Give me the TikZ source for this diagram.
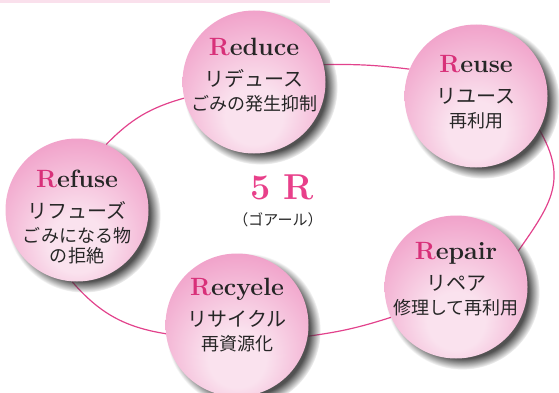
\documentclass[tikz,border=0pt]{standalone}
\usepackage{fontspec}
\newfontfamily\jpfont{Noto Sans CJK JP}
\usetikzlibrary{shadows,fadings,backgrounds}
\definecolor{ringpink}{HTML}{E2428C}
\definecolor{rpink}{HTML}{D83079}
\definecolor{fivepink}{HTML}{E8408A}
\definecolor{ballcore}{HTML}{FAE2EE}
\definecolor{ballmid}{HTML}{F09DC7}
\definecolor{ballrim}{HTML}{E57AB0}
\definecolor{inkgray}{HTML}{262626}
\definecolor{bandpink}{HTML}{FAE0EC}
\pgfdeclareradialshading{pinkball}{\pgfpoint{0bp}{-14bp}}{color(0bp)=(ballcore);
  color(10bp)=(ballcore); color(34bp)=(ballmid); color(56bp)=(ballrim); color(66bp)=(ballrim)}
\newcommand{\rtitle}[1]{{\fontsize{25}{24}\selectfont\bfseries\textcolor{rpink}{R}#1}}
\newcommand{\kana}[1]{{\jpfont\fontsize{20}{24}\selectfont #1}}
\newcommand{\kanji}[1]{{\jpfont\fontsize{18}{24}\selectfont #1}}

\begin{document}
\begin{tikzpicture}[
  x=1pt,y=1pt,
  ball/.style={circle,minimum size=143pt,inner sep=0pt,shading=pinkball,
    circular drop shadow={shadow xshift=6pt,shadow yshift=-5pt,opacity=0.85,
      fill=black!80,shadow scale=1.08}},
  balltext/.style={align=center,inner sep=0pt,text=inkgray,font=\fontsize{18}{24}\selectfont},
  ring/.style={draw=ringpink,line width=1.2pt}
]
\useasboundingbox (0,0) rectangle (559,392);
% the five balls
\node[ball] (reduce) at (254,310) {};
\node[ball] (reuse) at (476,296) {};
\node[ball] (repair) at (456,105) {};
\node[ball] (recycle) at (237,67) {};
\node[ball] (refuse) at (77,182) {};
% texts
\node[balltext] (reduce-t) at (254,317)
  {\rtitle{educe}\\[7pt]\kana{リデュース}\\\kanji{ごみの発生抑制}};
\node[balltext] (reuse-t) at (476,300)
  {\rtitle{euse}\\[7pt]\kana{リユース}\\\kanji{再利用}};
\node[balltext] (repair-t) at (456,113)
  {\rtitle{epair}\\[7pt]\kana{リペア}\\\kanji{修理して再利用}};
\node[balltext] (recycle-t) at (237,77)
  {\rtitle{ecyele}\\[7pt]\kana{リサイクル}\\\kanji{再資源化}};
\node[balltext] (refuse-t) at (77,175)
  {\rtitle{efuse}\\[7pt]\kana{リフューズ}\\\kanji{ごみになる物}\\[-4pt]\kanji{の拒絶}};
% centre
\node[font=\fontsize{36}{40}\selectfont\bfseries,text=fivepink] (fiveR) at (282,205) {5 R};
\node[font=\jpfont\fontsize{15}{18}\selectfont,text=inkgray] (goal) at (278,172) {（ゴアール）};
% ring behind the balls
\begin{scope}[on background layer]
\fill[bandpink] (0,389) rectangle (330,392);
\draw[ring] (reduce.14) to[bend left=4] (reuse.158);
\draw[ring] (reuse.-28) to[out=-60,in=55,looseness=1.2] (repair.30);
\draw[ring] (repair.205) to[bend left=5] (recycle.-9);
\draw[ring] (recycle.187) to[bend left=20] (refuse.266);
\draw[ring] (refuse.66) to[bend left=15] (reduce.193);
\end{scope}
\end{tikzpicture}
\end{document}
